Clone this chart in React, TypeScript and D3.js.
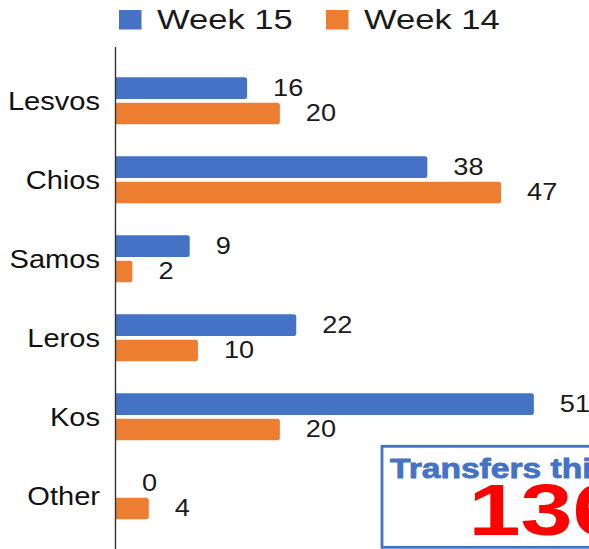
import React from "react";
import * as d3 from "d3";

const categories = ["Lesvos", "Chios", "Samos", "Leros", "Kos", "Other"];
const seriesNames = ["Week 15", "Week 14"];
const week15 = [16, 38, 9, 22, 51, 0];
const week14 = [20, 47, 2, 10, 20, 4];
const colors = ["#4472C4", "#ED7D31"];
const boxTitle = "Transfers this week";
const boxValue = "136";

const W = 589;
const H = 549;
const FONT = "'Liberation Sans', Arial, Helvetica, sans-serif";

function barPath(x0: number, x1: number, y: number, h: number, r: number) {
  const p = d3.path();
  const rr = Math.min(r, (x1 - x0) / 2, h / 2);
  p.moveTo(x0, y);
  p.lineTo(x1 - rr, y);
  p.quadraticCurveTo(x1, y, x1, y + rr);
  p.lineTo(x1, y + h - rr);
  p.quadraticCurveTo(x1, y + h, x1 - rr, y + h);
  p.lineTo(x0, y + h);
  p.closePath();
  return p.toString();
}

export default function App() {
  const x = d3.scaleLinear().domain([0, 60]).range([116, 607.6]);
  const y0 = d3
    .scaleBand<string>()
    .domain(categories)
    .range([45.3, 551.3])
    .paddingInner(0.405)
    .paddingOuter(0.405);
  const y1 = d3
    .scaleBand<string>()
    .domain(seriesNames)
    .range([0, y0.bandwidth()])
    .paddingInner(0.146);
  const series = [week15, week14];

  return (
    <svg
      width={W}
      height={H}
      style={{ position: "absolute", left: 0, top: 0, background: "#fff" }}
      fontFamily={FONT}
    >
      <rect x={0} y={0} width={W} height={H} fill="#fff" />
      {/* Legend */}
      {seriesNames.map((name, i) => {
        const lx = i === 0 ? 119 : 326;
        return (
          <g key={name}>
            <rect x={lx} y={10} width={22.5} height={19.5} fill={colors[i]} />
            <text
              transform={`translate(${lx + 38},29.3) scale(1.28,1)`}
              fontSize={27}
              fill="#1a1a1a"
            >
              {name}
            </text>
          </g>
        );
      })}

      {/* Bars */}
      {categories.map((c, ci) => (
        <g key={c}>
          {seriesNames.map((s, si) => {
            const v = series[si][ci];
            const by = (y0(c) as number) + (y1(s) as number);
            const bh = y1.bandwidth();
            return (
              <g key={s}>
                {v > 0 && (
                  <path d={barPath(x(0), x(v), by, bh, 2.5)} fill={colors[si]} />
                )}
                <text
                  transform={`translate(${x(v) + 26},${by + bh / 2 + 8}) scale(1.18,1)`}
                  fontSize={23}
                  fill="#1a1a1a"
                >
                  {v}
                </text>
              </g>
            );
          })}
          <text
            transform={`translate(100,${(y0(c) as number) + y0.bandwidth() / 2 + 9.2}) scale(1.14,1)`}
            textAnchor="end"
            fontSize={25.5}
            fill="#111"
          >
            {c}
          </text>
        </g>
      ))}

      {/* Axis line */}
      <line x1={115.5} x2={115.5} y1={47} y2={H} stroke="#333" strokeWidth={1.4} />

      {/* Summary box */}
      <rect
        x={382}
        y={446.3}
        width={260}
        height={101}
        fill="#fff"
        stroke="#4472C4"
        strokeWidth={2.8}
      />
      <text
        transform="translate(390,477.5) scale(1.2,1)"
        fontSize={28}
        fontWeight="bold"
        fill="#4472C4"
        stroke="#4472C4"
        strokeWidth={0.8}
      >
        {boxTitle}
      </text>
      <text
        transform="translate(468.5,535) scale(1.3,1)"
        fontSize={72}
        fontWeight="bold"
        fill="#FF0000"
      >
        {boxValue}
      </text>
    </svg>
  );
}
